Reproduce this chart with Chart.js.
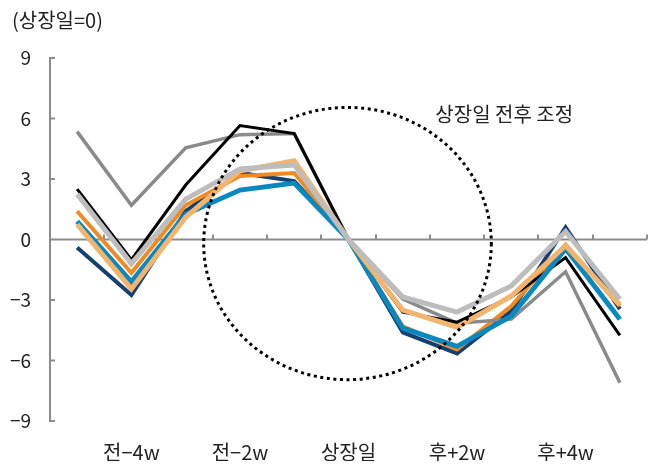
<!DOCTYPE html>
<html>
<head>
<meta charset="utf-8">
<script src="https://cdn.jsdelivr.net/npm/chart.js@4/dist/chart.umd.min.js"></script>
<style>
  html, body { margin: 0; padding: 0; background: #fff; }
  #wrap { width: 656px; height: 465px; position: relative; }
</style>
</head>
<body>
<div id="wrap"><canvas id="myChart"></canvas></div>
<script>
// weeks around listing day, only every 2nd one gets a label
var weeks = ['전−5w', '전−4w', '전−3w', '전−2w', '전−1w', '상장일', '후+1w', '후+2w', '후+3w', '후+4w', '후+5w'];
var yTicks = [-9, -6, -3, 0, 3, 6, 9];

var lightGray   = [2.25, -1.2, 2.0, 3.5, 3.7, 0, -2.85, -3.6, -2.3, 0.4, -2.95];
var lightOrange = [0.75, -2.45, 1.1, 3.4, 3.9, 0, -3.5, -4.35, -2.8, -0.3, -3.25];
var blue        = [0.9, -2.1, 1.25, 2.45, 2.8, 0, -4.4, -5.3, -3.8, -0.45, -3.95];
var black       = [2.5, -1.0, 2.7, 5.65, 5.25, 0, -3.6, -4.1, -2.85, -0.9, -4.75];
var midGray     = [5.35, 1.7, 4.55, 5.2, 5.25, 0, -2.95, -4.15, -3.95, -1.6, -7.1];
var orange      = [1.4, -1.65, 1.7, 3.15, 3.3, 0, -4.3, -5.45, -3.3, -0.25, -3.3];
var navy        = [-0.4, -2.75, 1.4, 3.3, 2.9, 0, -4.6, -5.65, -3.55, 0.6, -3.45];

var FONT = '"Noto Sans CJK KR", "Noto Sans", sans-serif';
var AXIS = '#8c8c8c';

function line(data, color, width) {
  return {
    data: data,
    borderColor: color,
    backgroundColor: color,
    borderWidth: width,
    pointRadius: 0,
    tension: 0,
    borderJoinStyle: 'miter',
    fill: false
  };
}

// zero line with small up ticks, y-axis inner ticks, dotted circle + texts
const extrasPlugin = {
  id: 'extras',
  beforeDatasetsDraw(chart) {
    const ctx = chart.ctx, x = chart.scales.x, y = chart.scales.y, area = chart.chartArea;
    const y0 = y.getPixelForValue(0);
    const half = (x.getPixelForValue(1) - x.getPixelForValue(0)) / 2;
    ctx.save();
    ctx.strokeStyle = AXIS;
    ctx.lineWidth = 2;
    ctx.beginPath();
    ctx.moveTo(area.left, y0);
    ctx.lineTo(area.right, y0);
    for (let i = 0; i < weeks.length; i++) {
      const px = Math.round(x.getPixelForValue(i) + half);
      ctx.moveTo(px, y0);
      ctx.lineTo(px, y0 - 5);
    }
    yTicks.forEach(v => {
      const py = y.getPixelForValue(v);
      ctx.moveTo(area.left, py);
      ctx.lineTo(area.left + 5, py);
    });
    ctx.stroke();
    ctx.restore();
  },
  afterDatasetsDraw(chart) {
    const ctx = chart.ctx, x = chart.scales.x, y = chart.scales.y;
    const step = x.getPixelForValue(1) - x.getPixelForValue(0);
    const cx = x.getPixelForValue(5) - 1;
    const cy = y.getPixelForValue(-0.2);
    const rx = step * 2.65;
    const ry = Math.abs(y.getPixelForValue(6.75) - y.getPixelForValue(0));
    ctx.save();
    ctx.strokeStyle = '#000';
    ctx.lineWidth = 3;
    ctx.setLineDash([3, 3.6]);
    ctx.beginPath();
    ctx.ellipse(cx, cy, rx, ry, 0, 0, Math.PI * 2);
    ctx.stroke();
    ctx.setLineDash([]);

    ctx.fillStyle = '#222';
    ctx.font = '20px ' + FONT;
    ctx.textBaseline = 'middle';
    ctx.textAlign = 'left';
    ctx.fillText('상장일 전후 조정', x.getPixelForValue(6.6), y.getPixelForValue(6.2));
    ctx.fillText('(상장일=0)', 12, 20);
    ctx.restore();
  }
};

const config = {
  type: 'line',
  data: {
    labels: weeks,
    datasets: [
      line(lightGray, '#bdbdbd', 5),
      line(lightOrange, '#f3b46e', 5),
      line(blue, '#0a88c0', 5),
      line(black, '#000000', 3),
      line(midGray, '#8a8a8a', 3.5),
      line(orange, '#f08a22', 4),
      line(navy, '#163f72', 4)
    ]
  },
  options: {
    responsive: true,
    maintainAspectRatio: false,
    animation: false,
    layout: { padding: { top: 58, right: 9, bottom: 4, left: 0 } },
    plugins: {
      legend: { display: false },
      tooltip: { enabled: false }
    },
    scales: {
      x: {
        type: 'category',
        offset: true,
        grid: { display: false, drawTicks: false },
        border: { display: false },
        afterFit: function(s) { s.height = 40; },
        ticks: {
          autoSkip: false,
          maxRotation: 0,
          padding: 19,
          color: '#222',
          font: { family: FONT, size: 20 },
          callback: function(val, idx) { return idx % 2 === 1 ? weeks[idx] : ''; }
        }
      },
      y: {
        min: -9,
        max: 9,
        grid: { display: false, drawTicks: false },
        border: { display: true, color: AXIS, width: 2 },
        afterFit: function(s) { s.width = 50; },
        ticks: {
          stepSize: 3,
          padding: 19,
          color: '#222',
          font: { family: FONT, size: 19 },
          callback: function(v) { return v < 0 ? '−' + Math.abs(v) : String(v); }
        }
      }
    }
  },
  plugins: [extrasPlugin]
};

new Chart(document.getElementById('myChart'), config);
</script>
</body>
</html>
